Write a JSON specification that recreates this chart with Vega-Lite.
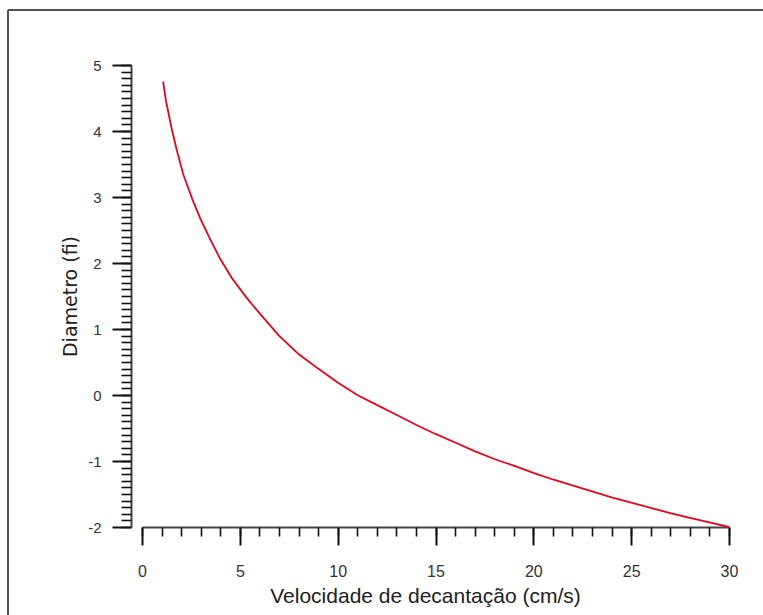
{
  "$schema": "https://vega.github.io/schema/vega-lite/v6.json",
  "width": 587,
  "height": 462,
  "autosize": {"type": "none"},
  "padding": {"left": 142, "top": 65, "right": 34, "bottom": 88},
  "background": "white",
  "config": {"view": {"stroke": null}},
  "data": {"values": [
    {"v": 1.08, "d": 4.75},
    {"v": 1.23, "d": 4.45},
    {"v": 1.52, "d": 4.03},
    {"v": 1.77, "d": 3.72},
    {"v": 2.11, "d": 3.34},
    {"v": 2.62, "d": 2.93},
    {"v": 3.0, "d": 2.66},
    {"v": 3.5, "d": 2.35},
    {"v": 4.0, "d": 2.06},
    {"v": 4.6, "d": 1.77},
    {"v": 5.3, "d": 1.49},
    {"v": 6.0, "d": 1.24},
    {"v": 7.0, "d": 0.9},
    {"v": 8.0, "d": 0.62},
    {"v": 9.0, "d": 0.4},
    {"v": 10.0, "d": 0.19},
    {"v": 11.0, "d": 0.0},
    {"v": 12.0, "d": -0.15},
    {"v": 13.0, "d": -0.3},
    {"v": 14.0, "d": -0.45},
    {"v": 15.0, "d": -0.59},
    {"v": 16.0, "d": -0.72},
    {"v": 17.0, "d": -0.85},
    {"v": 18.0, "d": -0.97},
    {"v": 19.0, "d": -1.07},
    {"v": 20.0, "d": -1.18},
    {"v": 21.0, "d": -1.28},
    {"v": 22.0, "d": -1.37},
    {"v": 23.0, "d": -1.46},
    {"v": 24.0, "d": -1.55},
    {"v": 25.0, "d": -1.63},
    {"v": 26.0, "d": -1.71},
    {"v": 27.0, "d": -1.79},
    {"v": 28.0, "d": -1.86},
    {"v": 29.0, "d": -1.93},
    {"v": 30.0, "d": -2.0}
  ]},
  "layer": [
    {
      "mark": {"type": "rule", "color": "#555555", "strokeWidth": 1.3},
      "encoding": {
        "x": {"datum": -6.85, "type": "quantitative", "scale": {"domain": [0, 30], "nice": false, "zero": false}, "axis": null},
        "y": {"datum": 5.83, "type": "quantitative", "scale": {"domain": [-2, 5], "nice": false, "zero": false}, "axis": null},
        "y2": {"datum": -3.6}
      }
    },
    {
      "mark": {"type": "rule", "color": "#555555", "strokeWidth": 1.3},
      "encoding": {
        "x": {"datum": -6.85, "type": "quantitative", "scale": {"domain": [0, 30], "nice": false, "zero": false}, "axis": null},
        "x2": {"datum": 32.5},
        "y": {"datum": 5.83, "type": "quantitative", "scale": {"domain": [-2, 5], "nice": false, "zero": false}, "axis": null}
      }
    },
    {
      "mark": {"type": "line", "color": "#e3051f", "strokeWidth": 1.8},
      "encoding": {
        "x": {
          "field": "v", "type": "quantitative",
          "scale": {"domain": [0, 30], "nice": false, "zero": false},
          "axis": {
            "orient": "bottom",
            "values": [0, 5, 10, 15, 20, 25, 30],
            "labelExpr": "'' + datum.value",
            "grid": false,
            "tickSize": 18, "tickWidth": 2, "tickColor": "#111111",
            "domainColor": "#444444", "domainWidth": 2,
            "labelFont": "Liberation Sans", "labelFontSize": 16, "labelColor": "#333333",
            "labelPadding": 18, "labelFlush": false, "labelOverlap": false,
            "title": "Velocidade de decantação (cm/s)",
            "titleFont": "Liberation Sans", "titleFontSize": 21, "titleFontWeight": "normal", "titleColor": "#222222",
            "titlePadding": 6, "titleX": 283
          }
        },
        "y": {
          "field": "d", "type": "quantitative",
          "scale": {"domain": [-2, 5], "nice": false, "zero": false},
          "axis": {
            "orient": "left",
            "values": [-2, -1, 0, 1, 2, 3, 4, 5],
            "labelExpr": "'' + datum.value",
            "offset": 11,
            "grid": false,
            "tickSize": 19, "tickWidth": 2, "tickColor": "#111111",
            "domainColor": "#444444", "domainWidth": 2,
            "labelFont": "Liberation Sans", "labelFontSize": 15, "labelColor": "#333333",
            "labelPadding": 11, "labelOverlap": false,
            "title": "Diametro (fi)",
            "titleFont": "DejaVu Sans", "titleFontSize": 19, "titleFontWeight": "normal", "titleColor": "#222222",
            "titlePadding": 7
          }
        }
      }
    },
    {
      "mark": {"type": "line", "opacity": 0},
      "encoding": {
        "x": {
          "field": "v", "type": "quantitative",
          "scale": {"domain": [0, 30], "nice": false, "zero": false},
          "axis": {
            "orient": "bottom",
            "values": [0,1,2,3,4,5,6,7,8,9,10,11,12,13,14,15,16,17,18,19,20,21,22,23,24,25,26,27,28,29,30],
            "grid": false, "domain": false, "labels": false, "title": null,
            "tickSize": 9, "tickWidth": 1.6, "tickColor": "#111111"
          }
        },
        "y": {
          "field": "d", "type": "quantitative",
          "scale": {"domain": [-2, 5], "nice": false, "zero": false},
          "axis": {
            "orient": "left",
            "offset": 11,
            "values": [-2,-1.9,-1.8,-1.7,-1.6,-1.5,-1.4,-1.3,-1.2,-1.1,-1,-0.9,-0.8,-0.7,-0.6,-0.5,-0.4,-0.3,-0.2,-0.1,0,0.1,0.2,0.3,0.4,0.5,0.6,0.7,0.8,0.9,1,1.1,1.2,1.3,1.4,1.5,1.6,1.7,1.8,1.9,2,2.1,2.2,2.3,2.4,2.5,2.6,2.7,2.8,2.9,3,3.1,3.2,3.3,3.4,3.5,3.6,3.7,3.8,3.9,4,4.1,4.2,4.3,4.4,4.5,4.6,4.7,4.8,4.9,5],
            "grid": false, "domain": false, "labels": false, "title": null,
            "tickSize": 10, "tickWidth": 1.6, "tickColor": "#111111"
          }
        }
      }
    }
  ],
  "resolve": {"axis": {"x": "independent", "y": "independent"}}
}
